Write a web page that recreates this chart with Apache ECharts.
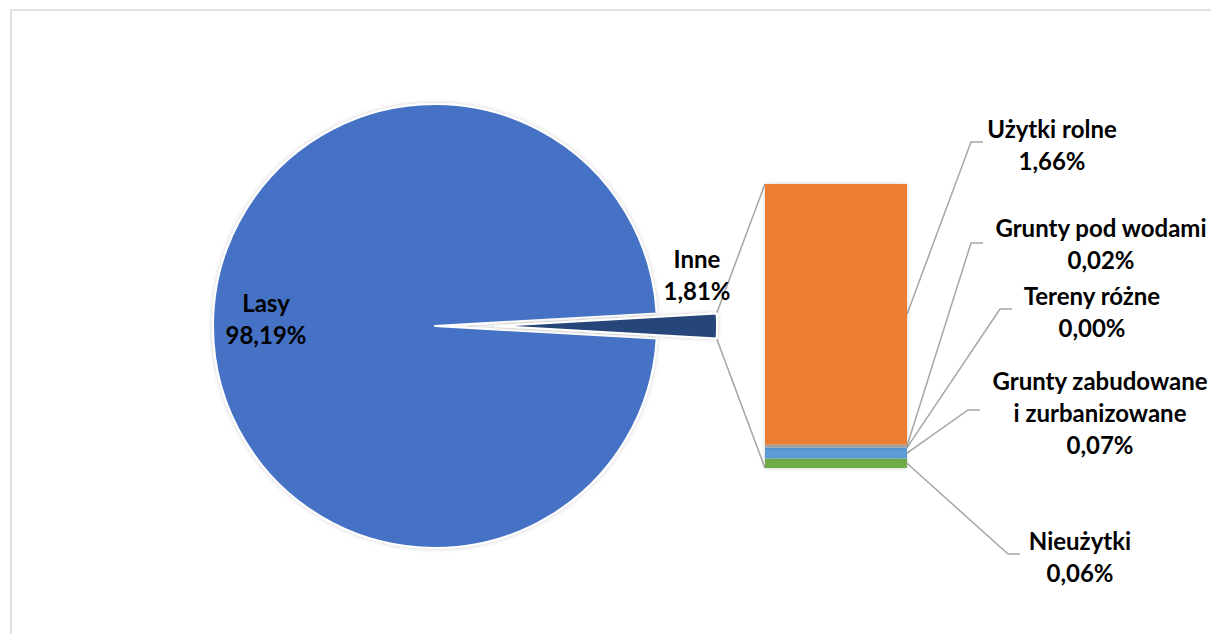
<!DOCTYPE html>
<html>
<head>
<meta charset="utf-8">
<style>
  html, body { margin: 0; padding: 0; background: #ffffff; }
  #chart { width: 1211px; height: 634px; }
</style>
<script src="https://cdn.jsdelivr.net/npm/echarts@6/dist/echarts.min.js"></script>
</head>
<body>
<div id="chart"></div>
<script>
// ---- data ----
const pieNames = ['Lasy', 'Inne'];
const pieValues = [98.19, 1.81];
const barNames = ['Użytki rolne', 'Grunty pod wodami', 'Tereny różne', 'Grunty zabudowane\ni zurbanizowane', 'Nieużytki'];
const barValues = [1.66, 0.02, 0.00, 0.07, 0.06];

// ---- styling / layout ----
const pieColors = ['#4472C4', '#264478'];
const barColors = ['#ED7D31', '#A5A5A5', '#FFC000', '#5B9BD5', '#70AD47'];
const FONT = 'Lato';
const FS = 24;
const LH = 32;
const pieLabelPos = [[266, 318], [697, 274]];
const barLabelPos = [[1052, 144], [1101, 243], [1092, 311], [1100, 412], [1080, 556]];
const barElbow = [[971, 142], [971, 243], [1000, 309], [968, 410], [1008, 554]];
const lineColor = '#A6A6A6';

const fmt = v => v.toFixed(2).replace('.', ',') + '%';
const textStyle = { fontFamily: FONT, fontWeight: 'bold', fontSize: FS, lineHeight: LH, color: '#000' };

const chart = echarts.init(document.getElementById('chart'), null, { renderer: 'svg' });

const totalOther = barValues.reduce((a, b) => a + b, 0);
const innePct = pieValues[1] / (pieValues[0] + pieValues[1]);

const series = [{
  type: 'pie',
  center: [435, 326],
  radius: 222,
  startAngle: 360 - innePct * 180,
  clockwise: true,
  selectedMode: 'single',
  selectedOffset: 60,
  silent: true,
  animation: false,
  emphasis: { disabled: true },
  itemStyle: { borderColor: '#fff', borderWidth: 2, shadowBlur: 4, shadowColor: 'rgba(0,0,0,0.2)' },
  label: { show: false },
  labelLine: { show: false },
  data: pieNames.map((n, i) => ({
    name: n, value: pieValues[i], selected: i === 1,
    itemStyle: { color: pieColors[i] }
  }))
}];

// stacked bar, bottom segment first
const order = barNames.map((_, i) => i).reverse();
order.forEach(i => {
  series.push({
    type: 'bar',
    name: barNames[i],
    stack: 'inne',
    barWidth: '100%',
    silent: true,
    animation: false,
    itemStyle: { color: barColors[i], shadowBlur: 4, shadowColor: 'rgba(0,0,0,0.18)' },
    label: Object.assign({
      show: true,
      formatter: p => p.seriesName + '\n' + fmt(p.value)
    }, textStyle),
    labelLayout: () => ({ x: barLabelPos[i][0], y: barLabelPos[i][1], align: 'center', verticalAlign: 'middle' }),
    data: [barValues[i]]
  });
});

chart.setOption({
  backgroundColor: '#ffffff',
  animation: false,
  grid: { left: 765, top: 184, width: 142, height: 284 },
  xAxis: { type: 'category', data: ['Inne'], show: false },
  yAxis: { type: 'value', min: 0, max: totalOther, show: false },
  series: series
});

// ---- connector and leader lines computed from the library layout ----
const model = chart.getModel();
const pieLayout = model.getSeriesByIndex(0).getData().getItemLayout(1);
const mid = (pieLayout.startAngle + pieLayout.endAngle) / 2;
const off = 60;
const ox = pieLayout.cx + Math.cos(mid) * off;
const oy = pieLayout.cy + Math.sin(mid) * off;
const aTop = Math.min(pieLayout.startAngle, pieLayout.endAngle);
const aBot = Math.max(pieLayout.startAngle, pieLayout.endAngle);
const pTop = [ox + pieLayout.r * Math.cos(aTop), oy + pieLayout.r * Math.sin(aTop)];
const pBot = [ox + pieLayout.r * Math.cos(aBot), oy + pieLayout.r * Math.sin(aBot)];

const graphics = [{
  type: 'rect', silent: true, z: -1,
  shape: { x: 11, y: 10, width: 1400, height: 800 },
  style: { fill: 'none', stroke: '#D9D9D9', lineWidth: 1.5 }
}];

// pie labels
pieNames.forEach((n, i) => {
  graphics.push({
    type: 'text', silent: true, z: 100,
    x: pieLabelPos[i][0], y: pieLabelPos[i][1],
    style: {
      text: n + '\n' + fmt(pieValues[i]),
      font: 'bold ' + FS + 'px ' + FONT,
      lineHeight: LH, fill: '#000',
      align: 'center', verticalAlign: 'middle'
    }
  });
});

// bar extents
let barTop = Infinity, barBot = -Infinity, barLeft = 0, barRight = 0;
const segMid = {};
order.forEach((i, k) => {
  const lay = model.getSeriesByIndex(k + 1).getData().getItemLayout(0);
  const y1 = Math.min(lay.y, lay.y + lay.height);
  const y2 = Math.max(lay.y, lay.y + lay.height);
  barTop = Math.min(barTop, y1);
  barBot = Math.max(barBot, y2);
  barLeft = lay.x;
  barRight = lay.x + lay.width;
  segMid[i] = (y1 + y2) / 2;
});

graphics.push({
  type: 'polyline', silent: true,
  shape: { points: [pTop, [barLeft, barTop]] },
  style: { stroke: lineColor, lineWidth: 1.5, fill: 'none' }
});
graphics.push({
  type: 'polyline', silent: true,
  shape: { points: [pBot, [barLeft, barBot]] },
  style: { stroke: lineColor, lineWidth: 1.5, fill: 'none' }
});

barNames.forEach((_, i) => {
  graphics.push({
    type: 'polyline', silent: true,
    shape: { points: [[barRight, segMid[i]], barElbow[i], [barElbow[i][0] + 12, barElbow[i][1]]] },
    style: { stroke: lineColor, lineWidth: 1.5, fill: 'none' }
  });
});

chart.setOption({ graphic: graphics });
</script>
</body>
</html>
